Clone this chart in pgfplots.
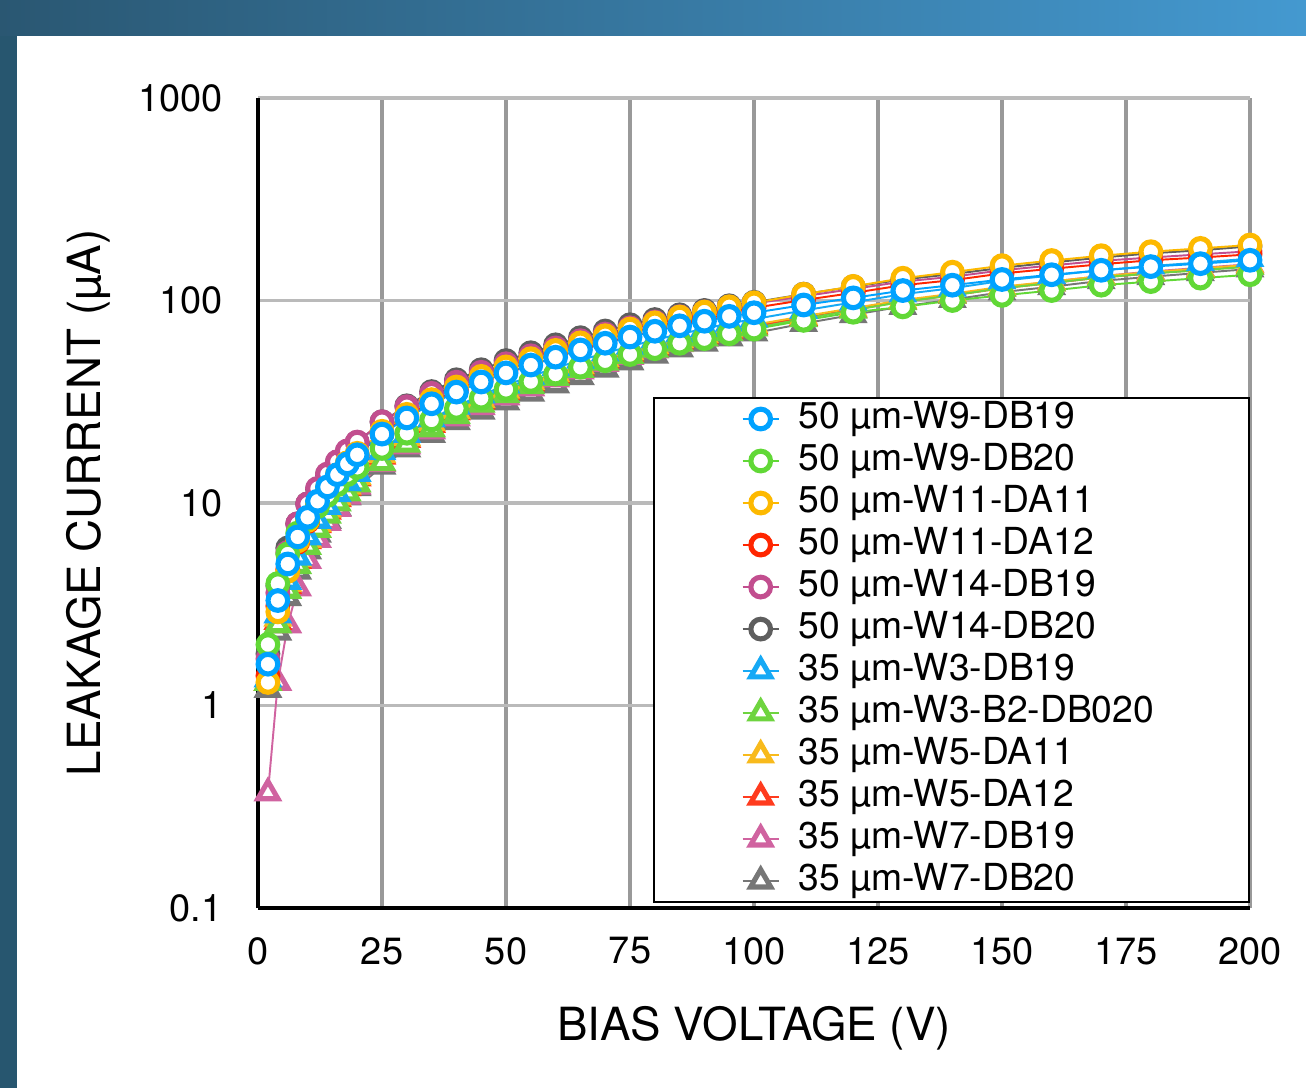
\documentclass[border=0pt]{standalone}
\usepackage{pgfplots}
\pgfplotsset{compat=1.18}
\usepackage{pgfplotstable}
\usepackage{fontspec}
\setmainfont{TeX Gyre Heros}

\definecolor{bgL}{HTML}{2A5772}
\definecolor{bgR}{HTML}{4499D0}
\definecolor{bgS}{HTML}{27566F}
\definecolor{cBlue}{HTML}{00A2FF}
\definecolor{cGreen}{HTML}{61D836}
\definecolor{cYellow}{HTML}{FDB900}
\definecolor{cRed}{HTML}{FF2600}
\definecolor{cPink}{HTML}{C24E8F}
\definecolor{cGray}{HTML}{5E5E5E}
\definecolor{tBlue}{HTML}{16A9F5}
\definecolor{tGreen}{HTML}{6ED43F}
\definecolor{tYellow}{HTML}{F8BA1C}
\definecolor{tRed}{HTML}{FF3B1E}
\definecolor{tPink}{HTML}{D063A0}
\definecolor{tGray}{HTML}{767676}

% 50 um sensors: b=W9-DB19 g=W9-DB20 y=W11-DA11 r=W11-DA12 p=W14-DB19 k=W14-DB20
\pgfplotstableread{
V   b     g     y     r     p     k
2   1.6   2.0   1.3   1.4   1.7   1.8
4   3.3   4.0   2.9   3.1   3.6   3.9
6   5.0   5.6   4.6   4.7   5.7   6.0
8   6.8   7.1   6.5   6.4   7.9   7.9
10  8.5   8.4   8.2   8.1   9.9   9.9
12  10.2  9.6   10.0  9.9   11.8  11.7
14  12.0  10.9  11.9  11.7  13.9  13.8
16  13.8  12.3  13.8  13.5  16.0  15.9
18  15.6  13.8  15.8  15.4  18.1  17.9
20  17.3  15.0  17.6  17.2  20.0  19.9
25  21.9  18.6  22.6  22.0  25.2  25.2
30  26.3  22.1  27.4  26.7  29.9  30.2
35  30.9  25.7  32.4  31.5  34.8  35.5
40  35.3  29.3  37.4  36.2  39.5  40.6
45  39.6  32.9  42.2  40.8  44.2  45.5
50  43.9  36.4  47.0  45.5  48.7  50.5
55  48.0  39.8  51.6  49.9  53.3  55.2
60  52.5  43.3  56.7  54.8  58.3  60.4
65  57.0  46.8  61.8  59.6  63.3  65.5
70  61.5  50.4  67.0  64.5  68.3  70.7
75  66.0  54.1  72.3  69.3  73.3  75.9
80  70.5  57.8  77.6  74.2  78.3  80.5
85  75.0  61.5  82.9  79.0  83.2  85.0
90  79.0  64.8  87.7  83.3  87.7  89.3
95  83.5  68.5  93.1  88.1  92.7  94.2
100 87.0  72.2  97.4  92.0  96.6  98.0
110 95.0  79.8  107.4 100.5 105   107.5
120 103   87.5  117.4 109   114   117
130 112   93    128.8 119   124   127
140 119   100   138   126   131   135
150 127   106   148.6 136   141   145
160 134   112   157.5 143.5 149   154
170 141   119   166.4 151   157   163
180 147   124   174.2 158   163   171
190 152   129   180.9 163   169   177
200 158   134   188   169   175   185
}\circles

% 35 um sensors: b=W3-DB19 g=W3-B2-DB020 y=W5-DA11 r=W5-DA12 p=W7-DB19 k=W7-DB20
\pgfplotstableread{
V   b     g     y     r     p     k
2   1.35  1.3   1.3   1.3   0.37  1.2
4   2.8   2.5   2.7   2.6   1.3   2.3
6   4.1   3.7   4.0   3.9   2.5   3.4
8   5.4   4.9   5.3   5.2   3.8   4.6
10  6.8   6.1   6.6   6.5   5.2   5.8
12  8.2   7.4   7.9   7.8   6.6   7.0
14  9.6   8.7   9.3   9.1   8.0   8.2
16  11.1  10.0  10.7  10.5  9.4   9.5
18  12.6  11.2  12.1  11.9  10.8  10.7
20  14.0  12.4  13.5  13.3  12.1  11.9
25  17.9  15.8  17.3  17.0  15.6  15.2
30  21.8  19.5  21.0  20.6  19.1  18.5
35  26.0  23.2  24.9  24.4  22.7  21.8
40  30.0  27.0  28.6  28.1  26.3  25.2
45  34.1  30.7  32.4  31.8  29.9  28.4
50  38.2  34.2  36.0  35.4  33.4  31.5
55  42.2  37.9  39.8  39.1  37.0  34.8
60  46.5  41.7  43.6  42.9  40.9  38.3
65  50.7  45.6  47.6  46.8  44.8  42.0
70  55.0  49.5  51.7  50.7  48.8  45.8
75  59.4  53.5  55.8  54.7  52.9  49.7
80  63.8  57.5  60.0  58.8  57.0  53.6
85  68.3  61.5  64.1  62.9  61.2  57.6
90  72.5  65.2  68.0  66.8  65.2  61.4
95  77.1  69.3  72.2  70.9  69.4  65.3
100 80.9  73.1  75.9  74.7  73.3  69.0
110 89.3  81.2  83.6  82.5  81.5  77
120 97.9  89.6  91.7  90.5  90    85
130 107.5 98.6  100.5 99    99    93.5
140 115   106   108   106   107   101
150 125   115   117   115   116   110
160 133   122   124   122   124   117
170 141   130   132   130   132   125
180 148   136   138   136   139   131
190 154   141   144   142   145   137
200 161   147   150   148   151   143
}\triangles

\begin{document}
\begin{tikzpicture}
% slide background
\fill[white] (0,0) rectangle (13.06,10.88);
\shade[left color=bgL, right color=bgR] (0,10.52) rectangle (13.06,10.88);
\fill[bgS] (0,0) rectangle (0.17,10.52);

\begin{axis}[
  at={(2.58cm,1.80cm)}, anchor=south west,
  scale only axis, width=9.92cm, height=8.10cm,
  ymode=log, xmin=0, xmax=200, ymin=0.1, ymax=1000,
  xtick={0,25,...,200},
  ytick={0.1,1,10,100,1000}, yticklabels={0.1,1,10,100,1000},
  minor tick num=0,
  major tick length=0pt, minor tick length=0pt,
  /pgf/number format/assume math mode=true,
  tick label style={font=\fontsize{10.8}{12}\selectfont},
  xticklabel style={yshift=-0.17cm},
  yticklabel style={xshift=-0.23cm},
  axis x line*=bottom, axis y line*=left,
  axis line style={-, black, line width=0.9pt},
  grid=major,
  major x grid style={color=black!40, line width=1pt},
  major y grid style={color=black!27, line width=1pt},
  xlabel={BIAS VOLTAGE (V)},
  ylabel={LEAKAGE CURRENT (µA)},
  label style={font=\fontsize{13}{15}\selectfont},
  xlabel style={at={(axis description cs:0.5,-0.148)}, anchor=center},
  ylabel style={at={(axis description cs:-0.171,0.5)}, anchor=center},
  clip=false,
  mark size=2.8pt,
  every axis plot/.append style={line width=0.55pt, mark options={fill=white, line width=1.45pt, solid}},
  reverse legend,
  legend cell align=left,
  legend image code/.code={\draw[mark repeat=2,mark phase=2,#1] plot coordinates {(0cm,0cm) (0.18cm,0cm) (0.36cm,0cm)};},
  legend style={at={(1,0.006)}, anchor=south east, draw=black, line width=0.55pt,
    font=\fontsize{10.6}{12}\selectfont, inner xsep=0.88cm, inner ysep=0pt,
    row sep=0pt, nodes={inner ysep=0.5pt, text height=0.285cm, text depth=0.1cm},
    /tikz/every odd column/.append style={column sep=0.12cm}},
]
% triangles drawn first (behind), in reverse legend order
\addplot[color=tGray, mark=triangle*, mark size=3.3pt] table[x=V,y=k]{\triangles};
\addlegendentry{35 µm-W7-DB20}
\addplot[color=tPink, mark=triangle*, mark size=3.3pt] table[x=V,y=p]{\triangles};
\addlegendentry{35 µm-W7-DB19}
\addplot[color=tRed, mark=triangle*, mark size=3.3pt] table[x=V,y=r]{\triangles};
\addlegendentry{35 µm-W5-DA12}
\addplot[color=tYellow, mark=triangle*, mark size=3.3pt] table[x=V,y=y]{\triangles};
\addlegendentry{35 µm-W5-DA11}
\addplot[color=tGreen, mark=triangle*, mark size=3.3pt] table[x=V,y=g]{\triangles};
\addlegendentry{35 µm-W3-B2-DB020}
\addplot[color=tBlue, mark=triangle*, mark size=3.3pt] table[x=V,y=b]{\triangles};
\addlegendentry{35 µm-W3-DB19}
% circles
\addplot[color=cGray, mark=*] table[x=V,y=k]{\circles};
\addlegendentry{50 µm-W14-DB20}
\addplot[color=cPink, mark=*] table[x=V,y=p]{\circles};
\addlegendentry{50 µm-W14-DB19}
\addplot[color=cRed, mark=*] table[x=V,y=r]{\circles};
\addlegendentry{50 µm-W11-DA12}
\addplot[color=cYellow, mark=*] table[x=V,y=y]{\circles};
\addlegendentry{50 µm-W11-DA11}
\addplot[color=cGreen, mark=*] table[x=V,y=g]{\circles};
\addlegendentry{50 µm-W9-DB20}
\addplot[color=cBlue, mark=*] table[x=V,y=b]{\circles};
\addlegendentry{50 µm-W9-DB19}
\end{axis}
\end{tikzpicture}
\end{document}
